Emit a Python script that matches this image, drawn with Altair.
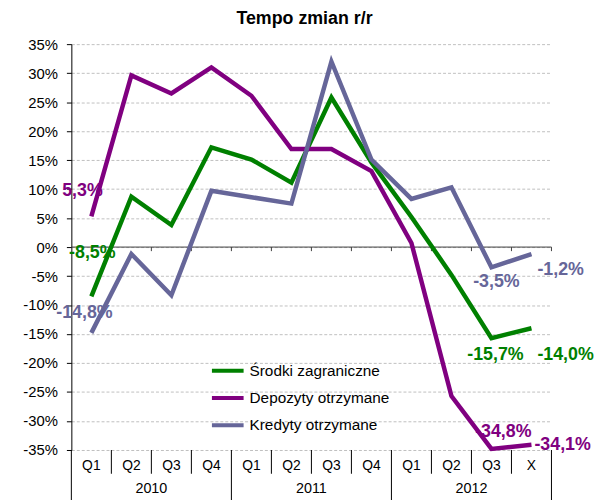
import altair as alt
import pandas as pd

categories = ["Q1", "Q2", "Q3", "Q4", "Q1", "Q2", "Q3", "Q4", "Q1", "Q2", "Q3", "X"]
years = ["2010", "2011", "2012"]
year_spans = [4, 4, 4]
series_names = ["Środki zagraniczne", "Depozyty otrzymane", "Kredyty otrzymane"]
srodki = [-8.5, 8.7, 3.8, 17.2, 15.1, 11.1, 25.8, 14.6, 5.2, -4.8, -15.7, -14.0]
depozyty = [5.3, 29.6, 26.5, 31.0, 26.1, 16.9, 16.9, 13.1, 0.7, -25.7, -34.8, -34.1]
kredyty = [-14.8, -1.2, -8.3, 9.7, 8.6, 7.5, 32.0, 15.1, 8.3, 10.3, -3.5, -1.2]
colors = ["#008000", "#800080", "#666699"]
y_ticks = list(range(-35, 40, 5))

FONT = "Liberation Sans"
n = len(categories)

rows = []
for name, vals in zip(series_names, [srodki, depozyty, kredyty]):
    for i, v in enumerate(vals):
        rows.append({"series": name, "idx": i, "x": i + 0.5, "cat": categories[i], "value": v})
df = pd.DataFrame(rows)
df["txt"] = df["value"].map(lambda v: f"{v:.1f}".replace(".", ",") + "%")

cat_df = pd.DataFrame({"x": [i + 0.5 for i in range(n)], "cat": categories})

year_rows = []
start = 0
for y, s in zip(years, year_spans):
    year_rows.append({"yr": y, "xc": start + s / 2})
    start += s
year_df = pd.DataFrame(year_rows)

year_bounds = []
acc = 0
for s in year_spans:
    acc += s
    year_bounds.append(acc)
q_bounds = [b for b in range(1, n) if b not in year_bounds]
qsep_df = pd.DataFrame({"b": q_bounds})
ysep_df = pd.DataFrame({"b": [0] + year_bounds})
ztick_df = pd.DataFrame({"b": list(range(1, n + 1)), "value": 0.0, "y1": -0.7})

xs = alt.Scale(domain=[0, n], nice=False, zero=False)
ys = alt.Scale(domain=[-35, 35], nice=False, zero=False)

yaxis = alt.Axis(
    values=y_ticks,
    labelExpr="datum.value + '%'",
    grid=True,
    gridDash=[3, 2],
    gridColor="#bfbfbf",
    gridWidth=1,
    domainColor="black",
    tickColor="black",
    tickSize=5,
    labelPadding=9,
    labelFontSize=15,
    labelFont=FONT,
    labelColor="black",
    title=None,
)


def Y(field="value"):
    return alt.Y(f"{field}:Q", scale=ys, axis=yaxis)


def X(field):
    return alt.X(f"{field}:Q", scale=xs, axis=None)


zero_line = alt.Chart(pd.DataFrame({"value": [0]})).mark_rule(color="#404040", strokeWidth=1).encode(
    y=Y()
)
zero_ticks = alt.Chart(ztick_df).mark_rule(color="#404040", strokeWidth=1).encode(
    x=X("b"), y=Y(), y2="y1:Q"
)

lines = alt.Chart(df).mark_line(strokeWidth=4.5).encode(
    x=X("x"),
    y=Y(),
    color=alt.Color(
        "series:N",
        scale=alt.Scale(domain=series_names, range=colors),
        legend=alt.Legend(
            orient="none",
            legendX=140,
            legendY=312,
            title=None,
            symbolType="stroke",
            symbolSize=1024,
            symbolStrokeWidth=4,
            labelFontSize=15.5,
            labelFont=FONT,
            labelColor="black",
            labelOffset=4,
            rowPadding=0.5,
            labelLimit=300,
        ),
    ),
)


def lab(series, idx, dx, dy, align="center"):
    color = colors[series_names.index(series)]
    return (
        alt.Chart(df)
        .transform_filter((alt.datum.series == series) & (alt.datum.idx == idx))
        .mark_text(fontSize=18, fontWeight="bold", font=FONT, color=color, dx=dx, dy=dy, align=align, baseline="middle")
        .encode(x=X("x"), y=Y(), text="txt:N")
    )


labels = [
    lab(series_names[1], 0, -9, -26),
    lab(series_names[0], 0, 1, -44),
    lab(series_names[2], 0, -7, -20),
    lab(series_names[0], 10, 4, 17),
    lab(series_names[0], 11, 6, 27, "left"),
    lab(series_names[2], 10, 5, 15),
    lab(series_names[2], 11, 6, 16, "left"),
    lab(series_names[1], 10, 12, -17),
    lab(series_names[1], 11, 3, 0, "left"),
]

cat_text = alt.Chart(cat_df).mark_text(fontSize=14, font=FONT, color="black", baseline="middle").encode(
    x=X("x"), y=alt.value(426), text="cat:N"
)
year_text = alt.Chart(year_df).mark_text(fontSize=14.5, font=FONT, color="black", baseline="middle").encode(
    x=X("xc"), y=alt.value(449), text="yr:N"
)
qsep = alt.Chart(qsep_df).mark_rule(color="black").encode(
    x=X("b"), y=alt.value(410), y2=alt.value(434)
)
ysep = alt.Chart(ysep_df).mark_rule(color="black").encode(
    x=X("b"), y=alt.value(410), y2=alt.value(492)
)

chart = (
    alt.layer(zero_line, zero_ticks, lines, *labels, cat_text, year_text, qsep, ysep)
    .properties(
        width=485,
        height=410,
        autosize=alt.AutoSizeParams(type="none"),
        padding={"left": 64, "top": 34, "right": 46, "bottom": 48},
        title=alt.TitleParams(
            "Tempo zmian r/r", fontSize=18, fontWeight="bold", font=FONT, color="black",
            anchor="middle", offset=9, dx=-7,
        ),
    )
    .configure_view(stroke=None)
)

chart.save("out.html", embed_options={"renderer": "svg", "actions": False})
